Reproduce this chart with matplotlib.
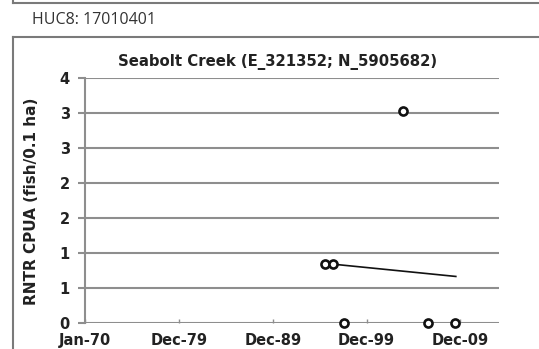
import matplotlib
matplotlib.use("Agg")
import matplotlib.pyplot as plt
import matplotlib.dates as mdates
from matplotlib.lines import Line2D
import datetime as dt

# Survey results: catch per unit area of rainbow trout
survey_dates = ["1995-07-15", "1996-06-15", "1997-08-15", "2003-11-15", "2006-07-15", "2009-06-01"]
cpua_values = [0.84, 0.84, 0.0, 3.03, 0.0, 0.0]

# Trend line segment
trend_dates = ["1996-06-15", "2009-07-01"]
trend_values = [0.84, 0.665]

# Axis ticks
y_ticks = [0, 0.5, 1.0, 1.5, 2.0, 2.5, 3.0, 3.5]
y_tick_labels = ["0", "1", "1", "2", "2", "3", "3", "4"]
x_tick_dates = ["1970-01-01", "1979-12-31", "1989-12-30", "1999-12-29", "2009-12-28"]
x_tick_labels = ["Jan-70", "Dec-79", "Dec-89", "Dec-99", "Dec-09"]
x_limits = ["1970-01-01", "2014-02-05"]

title = "Seabolt Creek (E_321352; N_5905682)"
y_label = "RNTR CPUA (fish/0.1 ha)"
header = "HUC8: 17010401"

W, H = 539, 349
fig = plt.figure(figsize=(W / 100, H / 100), dpi=100)
fig.patch.set_facecolor("white")

def to_dates(vals):
    return [dt.datetime.strptime(v, "%Y-%m-%d") for v in vals]

grid_col = "#8e8e8e"
text_col = "#222222"

ax = fig.add_axes([85 / W, 1 - 323 / H, (499 - 85) / W, (323 - 78) / H])
ax.set_facecolor("none")

ax.plot(to_dates(trend_dates), trend_values, color="#111111", lw=1.2, zorder=3)
ax.plot(to_dates(survey_dates), cpua_values, linestyle="none", marker="o",
        markersize=5.8, markerfacecolor="white", markeredgecolor="#111111",
        markeredgewidth=1.9, zorder=4, clip_on=False)

ax.set_ylim(0, 3.5)
ax.set_xlim(*mdates.date2num(to_dates(x_limits)))
ax.set_yticks(y_ticks)
ax.set_yticklabels(y_tick_labels)
ax.set_xticks(mdates.date2num(to_dates(x_tick_dates)))
ax.set_xticklabels(x_tick_labels)

for t in y_ticks:
    ax.axhline(t, color=grid_col, lw=1.5, zorder=1)

for s in ["top", "right", "bottom"]:
    ax.spines[s].set_visible(False)
ax.spines["left"].set_color(grid_col)
ax.spines["left"].set_linewidth(1.5)

ax.tick_params(axis="y", direction="out", length=5, width=1.5, color=grid_col,
               labelsize=10.5, labelcolor=text_col, pad=6)
ax.tick_params(axis="x", direction="in", length=3, width=1, color=grid_col,
               labelsize=10.5, labelcolor=text_col, pad=7)
for lab in ax.get_xticklabels() + ax.get_yticklabels():
    lab.set_fontweight("bold")

fig.text(278 / W, 1 - 62 / H, title, ha="center", va="center",
         fontsize=10.7, fontweight="bold", color=text_col)
fig.text(32 / W, 1 - 201 / H, y_label, ha="center", va="center", rotation=90,
         fontsize=11, fontweight="bold", color=text_col)
fig.text(32 / W, 1 - 20 / H, header, ha="left", va="center",
         fontsize=11.5, color="#333333", family="Open Sans")

# Page frames around the chart
frame = dict(color="#7a7a7a", lw=1.5, transform=fig.transFigure)
fig.add_artist(Line2D([13 / W, 1], [1 - 3 / H, 1 - 3 / H], **frame))
fig.add_artist(Line2D([13 / W, 13 / W], [1, 1 - 3 / H], **frame))
fig.add_artist(Line2D([13 / W, 1], [1 - 37 / H, 1 - 37 / H], **frame))
fig.add_artist(Line2D([13 / W, 13 / W], [1 - 37 / H, 0], **frame))

fig.savefig("out.png", dpi=100, facecolor="white")
